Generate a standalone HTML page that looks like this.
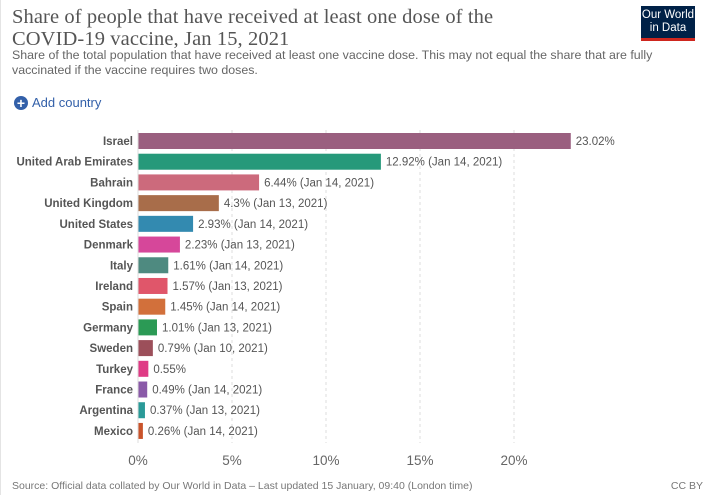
<!DOCTYPE html>
<html><head><meta charset="utf-8">
<style>
body{margin:0;width:715px;height:496px;background:#fff;font-family:"Liberation Sans",sans-serif;overflow:hidden;position:relative}
.frame{position:absolute;left:0;top:0;width:714px;height:495px;border-left:1px solid #e4e4e4}
h1{position:absolute;left:12px;top:6px;margin:0;font-family:"Liberation Serif",serif;font-weight:normal;font-size:20.5px;line-height:22px;color:#555;letter-spacing:0.1px}
.sub{position:absolute;left:12px;top:48px;font-size:12.4px;line-height:15px;color:#666;width:680px}
.logo{position:absolute;left:641px;top:6px;width:54px;height:35px;background:#002147;color:#fff;font-size:11.5px;line-height:13px;text-align:center;padding-top:3px;box-sizing:border-box;border-bottom:3px solid #ce261e}
.add{position:absolute;left:14px;top:95px;font-size:13px;color:#3360a9;display:flex;align-items:center;gap:4px}
.add .c{width:14px;height:14px;border-radius:50%;background:#3360a9;color:#fff;font-weight:bold;font-size:14px;line-height:14px;text-align:center}
.foot{position:absolute;left:12px;top:480px;font-size:10.5px;color:#777}
.cc{position:absolute;right:12px;top:480px;font-size:10.5px;color:#777}
svg text{font-family:"Liberation Sans",sans-serif}
</style></head><body>
<div class="frame"></div>
<h1>Share of people that have received at least one dose of the<br>COVID-19 vaccine, Jan 15, 2021</h1>
<div class="sub">Share of the total population that have received at least one vaccine dose. This may not equal the share that are fully vaccinated if the vaccine requires two doses.</div>
<div class="logo">Our World<br>in Data</div>
<div class="add"><span class="c">+</span><span>Add country</span></div>
<svg id="chart" width="715" height="496" style="position:absolute;left:0;top:0"></svg>
<div class="foot">Source: Official data collated by Our World in Data – Last updated 15 January, 09:40 (London time)</div>
<div class="cc">CC BY</div>
<script>
const countries=["Israel","United Arab Emirates","Bahrain","United Kingdom","United States","Denmark","Italy","Ireland","Spain","Germany","Sweden","Turkey","France","Argentina","Mexico"];
const values=[23.02,12.92,6.44,4.3,2.93,2.23,1.61,1.57,1.45,1.01,0.79,0.55,0.49,0.37,0.26];
const dates=["","Jan 14, 2021","Jan 14, 2021","Jan 13, 2021","Jan 14, 2021","Jan 13, 2021","Jan 14, 2021","Jan 13, 2021","Jan 14, 2021","Jan 13, 2021","Jan 10, 2021","","Jan 14, 2021","Jan 13, 2021","Jan 14, 2021"];
const colors=["#9a5f7f","#26997a","#cc6a7c","#a86d4a","#338ab0","#d6479a","#4e8a80","#e0566a","#d2703b","#2b9a55","#9c4f5a","#df3b85","#8a5aa8","#2a9a98","#c9532a"];
const ticks=[0,5,10,15,20];
const NS="http://www.w3.org/2000/svg";
const svg=document.getElementById('chart');
const x0=138,pxPer=18.8,yTop=141,step=20.71,barH=16;
const xs=v=>x0+v*pxPer, ys=i=>yTop+i*step;
function mk(t,a){const e=document.createElementNS(NS,t);for(const k in a)e.setAttribute(k,a[k]);svg.appendChild(e);return e;}
ticks.forEach(t=>{
  if(t>0){const l=mk('line',{x1:xs(t),x2:xs(t),y1:130,y2:443,stroke:'#ddd','stroke-dasharray':'3,3'});
  
  }
  const tx=mk('text',{x:xs(t),y:465,'text-anchor':'middle','font-size':'13.5',fill:'#666'});tx.textContent=t+'%';
  
  
});
countries.forEach((c,i)=>{
  const y=ys(i);
  const lb=mk('text',{x:133,y:y+4,'text-anchor':'end','font-size':'11.5','font-weight':'bold',fill:'#555'});lb.textContent=c;
  
  
  const r=mk('rect',{x:x0,y:y-barH/2,width:values[i]*pxPer,height:barH,fill:colors[i]});
  
  
  const v=mk('text',{x:xs(values[i])+5,y:y+4,'font-size':'11.5',fill:'#555'});
  v.textContent=values[i]+'%'+(dates[i]?' ('+dates[i]+')':'');
  
  
});
const ax=mk('line',{x1:x0,x2:x0,y1:130,y2:443,stroke:'#ddd'});


</script>
</body></html>
